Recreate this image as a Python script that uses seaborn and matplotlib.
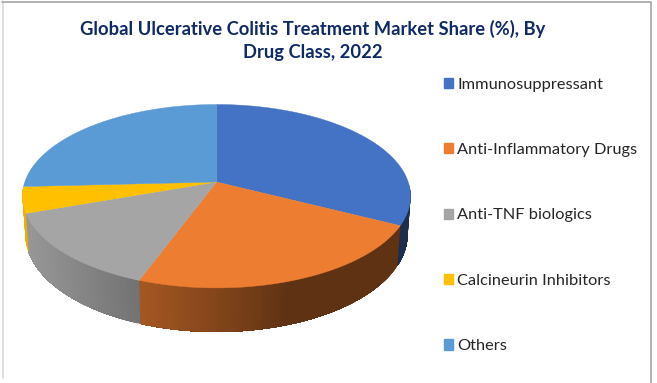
import numpy as np
import seaborn as sns
import matplotlib

matplotlib.use("Agg")
import matplotlib.pyplot as plt
from matplotlib.patches import Patch

TITLE = "Global Ulcerative Colitis Treatment Market Share (%), By\nDrug Class, 2022"
categories = [
    "Immunosuppressant",
    "Anti-Inflammatory Drugs",
    "Anti-TNF biologics",
    "Calcineurin Inhibitors",
    "Others",
]
shares = [32.5, 23.1, 14.0, 4.6, 25.8]
colors = ["#4472c4", "#ed7d31", "#a5a5a5", "#ffc000", "#5b9bd5"]

# perspective of the 3d pie, in pixels
CX, CY = 216.5, 182
RX, RY, PERSP = 191.7, 89.5, 0.155
DEPTH, BOTTOM_SCALE = 37.2, 0.985
# side wall shading against x
SHADE_X = [25, 138, 216, 290, 410]
SHADE_F = [0.92, 0.70, 0.56, 0.40, 0.40]


def project(theta):
    # theta clockwise from 12 o'clock, in degrees
    t = np.radians(theta)
    X, Y = np.sin(t), np.cos(t)
    w = 1 + PERSP * Y
    return CX + RX * X / w, CY - RY * Y / w, w


def draw_walls(ax, start, end, color):
    lo, hi = max(start, 92), min(end, 266)
    if hi <= lo:
        return
    edges = np.linspace(lo, hi, max(int((hi - lo) * 1.5), 2) + 1)
    base = np.array(matplotlib.colors.to_rgb(color))
    # strips run on to the end of the slice, the next one paints over, so no seams
    for a in edges[:-1]:
        theta = np.linspace(a, hi, 60)
        x, y, w = project(theta)
        x2 = CX + (x - CX) * BOTTOM_SCALE
        f = np.interp(project(a)[0], SHADE_X, SHADE_F)
        ax.fill(
            np.r_[x, x2[::-1]],
            np.r_[y, (y + DEPTH / w)[::-1]],
            color=tuple(base * f),
            linewidth=0,
        )


def draw_top(ax, start, end, color):
    theta = np.linspace(start, end, max(int(end - start) * 2, 2))
    x, y, _ = project(theta)
    ax.fill(np.r_[CX, x], np.r_[CY, y], color=color, linewidth=0.3)


def main():
    sns.set_theme(style="white")
    plt.rcParams["font.family"] = ["Lato", "DejaVu Sans"]

    fig, ax = plt.subplots(figsize=(6.57, 3.83), dpi=100)
    ax.set_position([0, 0, 1, 1])
    ax.set_xlim(0, 657)
    ax.set_ylim(383, 0)
    ax.axis("off")

    palette = sns.color_palette(colors)
    angles = np.r_[0, np.cumsum(shares)] * 360 / sum(shares)

    for i in range(len(shares)):
        draw_walls(ax, angles[i], angles[i + 1], palette[i])
    for i in range(len(shares)):
        draw_top(ax, angles[i], angles[i + 1], palette[i])

    # frame of the screenshot
    ax.plot([2.5, 2.5], [1, 378], color="#d9d9d9", linewidth=1.2)
    ax.plot([2, 650.5, 650.5], [1.5, 1.5, 383], color="#a6a6a6", linewidth=1.2)

    ax.text(
        313, 40.5, TITLE, ha="center", va="center", fontsize=13.2, fontweight="bold",
        color="#0f2a66", linespacing=1.4,
    )

    handles = [Patch(color=c, label=n) for c, n in zip(palette, categories)]
    ax.legend(
        handles=handles,
        loc="center left",
        bbox_to_anchor=(429.5 / 657, 1 - 215.5 / 383),
        frameon=False,
        fontsize=11.8,
        labelcolor="#262626",
        handlelength=0.55,
        handleheight=0.6,
        handletextpad=0.25,
        labelspacing=3.14,
    )

    fig.savefig("out.png", dpi=100)


if __name__ == "__main__":
    main()
